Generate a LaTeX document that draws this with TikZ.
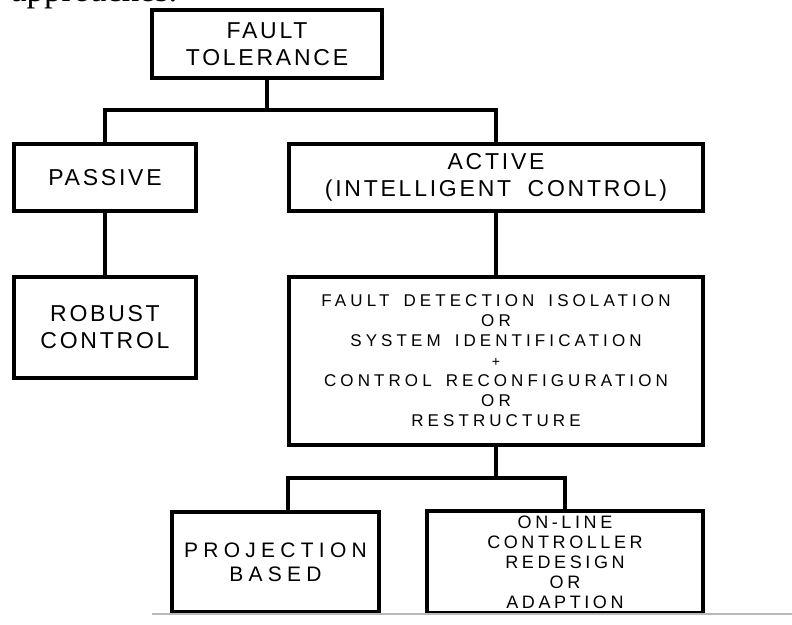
\documentclass[tikz,border=0pt]{standalone}
\usepackage{fontspec}
\setmainfont{Liberation Serif}
\newfontfamily\boxfam[LetterSpace=12, WordSpace=1.8]{Liberation Sans}
\newfontfamily\fdifam[LetterSpace=24, WordSpace=1.6]{Liberation Sans}
\newfontfamily\projfam[LetterSpace=25]{Liberation Sans}
\newfontfamily\linefam[LetterSpace=20]{Liberation Sans}
\usetikzlibrary{positioning,calc}
\tikzset{
  boxnd/.style={draw, line width=3.4pt, inner sep=0pt, align=center},
  link/.style={line width=3.4pt},
  ruleln/.style={line width=1.4pt, gray!55},
}
\newcommand{\topfont}{\boxfam\fontsize{23}{27}\selectfont}
\newcommand{\fdifont}{\fdifam\fontsize{17}{20}\selectfont}
\newcommand{\projfont}{\projfam\fontsize{21}{24}\selectfont}
\newcommand{\linefont}{\linefam\fontsize{18}{20}\selectfont}
\newcommand{\captfont}{\rmfamily\fontsize{35}{40}\selectfont}

\begin{document}
\begin{tikzpicture}[x=1pt, y=-1pt]
    \useasboundingbox (0,0) rectangle (792,624);
    \clip (0,0) rectangle (792,624);
    % caption above, cut off
    \node[anchor=base west, inner sep=0pt, font=\captfont] (capt) at (11,1) {approaches.};
    % level 1
    \node[boxnd, minimum width=230pt, minimum height=68pt, font=\topfont] (ft) at (267,44) {FAULT\\TOLERANCE};
    % level 2: passive / active
    \node[boxnd, minimum width=182pt, minimum height=67pt, font=\topfont] (passive) at (105,177.5) {PASSIVE};
    \node[boxnd, minimum width=414pt, minimum height=67pt, font=\topfont] (active) at (496,177.5) {ACTIVE\\(INTELLIGENT CONTROL)};
    % level 3
    \node[boxnd, minimum width=182pt, minimum height=101pt, font=\topfont] (robust) at (105,327.5) {ROBUST\\CONTROL};
    \node[boxnd, minimum width=414pt, minimum height=168pt, font=\fdifont] (fdi) at (496,361) {FAULT DETECTION ISOLATION\\OR\\SYSTEM IDENTIFICATION\\{\fontsize{14}{14}\selectfont +}\\CONTROL RECONFIGURATION\\OR\\RESTRUCTURE};
    % level 4
    \node[boxnd, minimum width=207pt, minimum height=100pt, font=\projfont] (proj) at (275.5,562) {PROJECTION\\BASED};
    \node[boxnd, minimum width=276pt, minimum height=102pt, font=\linefont] (online) at (565,562) {ON-LINE\\CONTROLLER\\REDESIGN\\OR\\ADAPTION};
    % connectors
    \coordinate (j1) at (267,110);
    \draw[link] (ft.south) -- (j1);
    \draw[link] (passive.north) |- (j1) -| (active.north);
    \draw[link] (passive.south) -- (robust.north);
    \draw[link] (active.south) -- (fdi.north);
    \coordinate (j2) at (496,478);
    \coordinate (pj) at (288,0);
    \draw[link] (fdi.south) -- (j2);
    \draw[link] (proj.north -| pj) |- (j2) -| (online.north);
    % page rule
    \coordinate (ruleL) at (152,614);
    \coordinate (ruleR) at (792,614);
    \draw[ruleln] (ruleL) -- (ruleR);
\end{tikzpicture}
\end{document}
